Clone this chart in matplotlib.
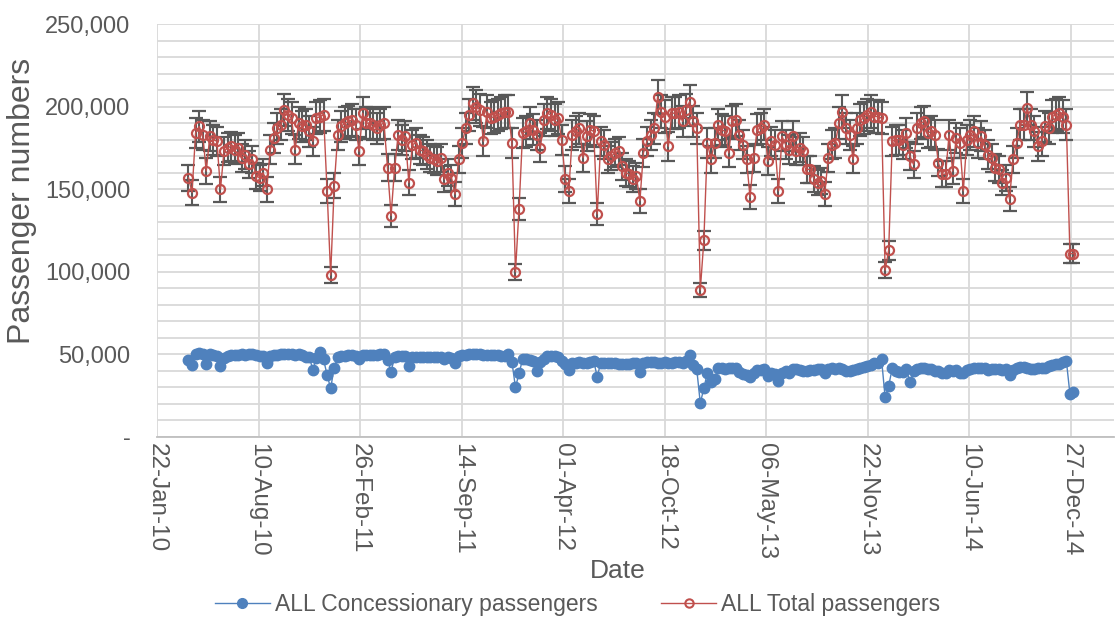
import numpy as np
import pandas as pd
import matplotlib
matplotlib.use("Agg")
from matplotlib import pyplot as plt
from matplotlib.lines import Line2D
import matplotlib.dates as mdates
from matplotlib.ticker import MultipleLocator, FuncFormatter

plt.rcParams['font.family'] = ['Liberation Sans', 'DejaVu Sans']

# Weekly passenger numbers (thousands)
total_k = [
    157, 148, 184, 188, 183, 161, 182, 180, 179, 150, 173, 175, 176, 174, 175, 169, 171, 165, 168, 158,
    157, 160, 150, 174, 181, 187, 189, 198, 195, 193, 174, 190, 188, 189, 185, 179, 193, 194, 195, 149,
    98, 152, 183, 188, 190, 191, 192, 189, 173, 196, 190,
    190, 189, 187, 189, 190, 163, 134, 163, 183, 180, 182, 154, 177, 178, 174, 173, 171, 169, 168, 167,
    169, 156, 160, 157, 147, 168, 178, 187, 195, 202, 200, 198, 179, 197, 193, 194, 195, 196, 197, 197,
    178, 100, 138, 184, 185, 190, 186, 183, 175, 192, 196, 195, 192,
    193, 180, 156, 149, 183, 185, 187, 169, 182, 186, 185, 135, 179, 177, 168, 170, 172, 173, 164, 160,
    159, 156, 158, 143, 172, 179, 183, 187, 206, 197, 194, 176, 196, 196, 197, 191, 198, 203, 191, 187,
    89, 119, 178, 168, 178, 189, 186, 185, 172, 191, 192, 183, 177,
    168, 145, 169, 186, 187, 189, 167, 179, 177, 149, 182, 177, 174, 182, 173, 175, 173, 162, 162, 156,
    154, 155, 147, 169, 177, 178, 190, 197, 187, 183, 168, 187, 192, 193, 195, 197, 194, 194, 193, 101,
    113, 179, 180, 180, 177, 184, 170, 165, 187, 190, 191, 184,
    185, 183, 166, 159, 159, 183, 161, 181, 178, 149, 180, 183, 185, 178, 182, 177, 171, 169, 163, 162,
    154, 157, 144, 168, 178, 189, 189, 199, 189, 185, 176, 179, 188, 187, 194, 195, 196, 194, 189, 111,
    111,
]

concession_k = [
    46.5, 43.5, 50.5, 51, 50, 44, 50, 49.5, 49, 43, 48, 49, 49.5, 49.5, 49.5, 50, 49.5, 50, 50.5, 49.5,
    49, 49, 45, 49, 49.5, 49.5, 50, 50.5, 50.5, 50, 49.5, 50, 49.5, 48.5, 48.5, 40.5, 48, 51.5, 47, 37.5,
    29.5, 42, 48.5, 49, 49, 49.5, 49.5, 49, 47, 49.5, 49.5,
    49.5, 49.5, 49.5, 50, 50.5, 46.5, 39.5, 48.5, 49, 49, 49, 43, 48.5, 48.5, 48.5, 48.5, 48.5, 48.5, 48.5, 48.5,
    48.5, 47, 48.5, 48, 45, 49, 49.5, 49.5, 50, 50.5, 50.5, 50, 49.5, 49.5, 49.5, 49.5, 49.5, 49, 49, 50,
    45.5, 30, 38.5, 47, 47, 46.5, 46, 40, 45.5, 47.5, 49, 49, 49,
    48.5, 46, 44, 40.5, 45, 45, 45.5, 45, 45, 45.5, 46, 36.5, 45, 44.5, 44.5, 45, 44.5, 44, 44, 44,
    44, 44.5, 45, 39.5, 45, 45.5, 45.5, 45.5, 45, 45, 45.5, 44.5, 45, 45.5, 45.5, 45, 46, 49.5, 43.5, 41,
    20.5, 29.5, 39, 33, 35, 42, 41.5, 41, 41.5, 42, 42, 39.5, 38,
    37.5, 36.5, 39, 40.5, 40.5, 41, 37, 38.5, 38, 34, 39, 40, 38.5, 41, 41, 40.5, 40, 40, 40.5, 40.5,
    41, 41, 39, 41, 41.5, 41, 42, 41, 40, 40, 40.5, 41, 41.5, 42.5, 43, 43.5, 44.5, 45, 47, 24,
    31, 41.5, 40, 39.5, 39.5, 41, 33, 40, 41, 41.5, 41.5, 41,
    41, 40, 40, 38.5, 38.5, 40.5, 40, 40.5, 39, 38.5, 40.5, 41, 41.5, 41.5, 42, 41.5, 40.5, 41, 41, 41,
    40.5, 41, 37.5, 40.5, 42, 42.5, 42.5, 42, 41, 41, 41.5, 41.5, 42, 43, 43.5, 44, 44, 45.5, 46, 26,
    27.5,
]

tick_labels = ['22-Jan-10', '10-Aug-10', '26-Feb-11', '14-Sep-11', '01-Apr-12',
               '18-Oct-12', '06-May-13', '22-Nov-13', '10-Jun-14', '27-Dec-14']

dates = pd.date_range('2010-03-25', periods=len(total_k), freq='7D')
total = np.array(total_k) * 1000
concession = np.array(concession_k) * 1000
err = total * 0.05

grey = '#595959'
blue = '#4f81bd'
red = '#c0504d'

fig = plt.figure(figsize=(11.15, 6.17), dpi=100)
ax = fig.add_axes([157 / 1115, 1 - 437 / 617, (1114 - 157) / 1115, 413 / 617])

ax.plot(dates, concession, color=blue, lw=1, marker='o', ms=7.5,
        mfc=blue, mec=blue, zorder=3)
ax.errorbar(dates, total, yerr=err, color=red, lw=1, marker='o', ms=6.5,
            mfc='none', mec=red, mew=1.6, ecolor=grey, elinewidth=1.5,
            capsize=5, capthick=1.5, zorder=3)

# x axis: ticks every 200 days as in the original
tick_dates = pd.to_datetime(tick_labels, format='%d-%b-%y')
ax.set_xticks(tick_dates)
ax.set_xticklabels(tick_labels, rotation=-90, fontsize=17.5, color=grey)
x0 = mdates.date2num(tick_dates[0])
x1 = mdates.date2num(tick_dates[-1])
ax.set_xlim(x0, x1 + (x1 - x0) * (1114 - 1071) / (1071 - 158))

ax.set_ylim(0, 250000)
ax.yaxis.set_major_locator(MultipleLocator(50000))
ax.yaxis.set_minor_locator(MultipleLocator(10000))
ax.yaxis.set_major_formatter(FuncFormatter(lambda v, p: '-' if v == 0 else f'{v:,.0f}'))
ax.tick_params(axis='y', which='both', length=0, pad=19, labelsize=17, labelcolor=grey)
ax.tick_params(axis='x', length=0, pad=4)

ax.grid(True, which='both', axis='y', color='#d9d9d9', lw=1.3)
ax.grid(True, which='major', axis='x', color='#d9d9d9', lw=1.3)
ax.set_axisbelow(True)
for s in ['top', 'right', 'left']:
    ax.spines[s].set_visible(False)
ax.spines['bottom'].set_color('#bfbfbf')
ax.spines['bottom'].set_linewidth(1.3)

ax.set_ylabel('Passenger numbers', fontsize=23, color=grey)
ax.yaxis.set_label_coords(-0.125, 0.571)
ax.set_xlabel('Date', fontsize=19, color=grey)
ax.xaxis.set_label_coords(0.481, -0.295)

handles = [
    Line2D([], [], color=blue, lw=1, marker='o', ms=7, mfc=blue, mec=blue),
    Line2D([], [], color=red, lw=1, marker='o', ms=6, mfc='none', mec=red, mew=1.5),
]
fig.legend(handles, ['ALL Concessionary passengers', 'ALL Total passengers'],
           loc='center', bbox_to_anchor=(0.518, 1 - 605 / 617), ncol=2, frameon=False,
           fontsize=16.5, labelcolor=grey, handlelength=2.4, columnspacing=2.8, handletextpad=0.2)

fig.savefig('out.png', dpi=100)
